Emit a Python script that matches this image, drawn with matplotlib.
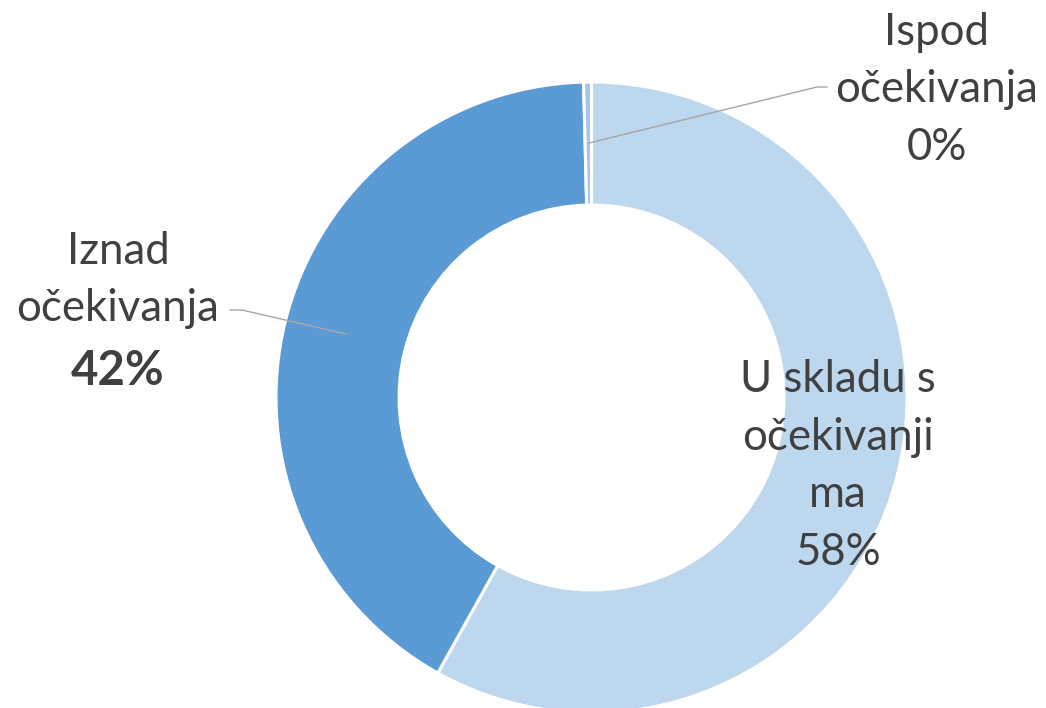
import matplotlib
matplotlib.use("Agg")
import matplotlib.pyplot as plt

categories = ["U skladu s očekivanjima", "Iznad očekivanja", "Ispod očekivanja"]
values = [58.1, 41.5, 0.4]
label_texts = ["U skladu s\nočekivanji\nma\n58%", "Iznad\nočekivanja", "Ispod\nočekivanja\n0%"]
pct_iznad = "42%"
colors = ["#BDD7EE", "#5B9BD5", "#A9C4EA"]

W, H = 1046, 708
fig = plt.figure(figsize=(W / 100, H / 100), dpi=100)
ax = fig.add_axes([0, 0, 1, 1])

cx, cy, R = 591.5, H - 397.5, 315.5
wedges, _ = ax.pie(values, colors=colors, startangle=90, counterclock=False,
                   center=(cx, cy), radius=R, frame=True,
                   wedgeprops=dict(width=R * 0.39, edgecolor="white", linewidth=2.2))
ax.set_xlim(0, W)
ax.set_ylim(0, H)
ax.set_aspect("equal")
ax.axis("off")

font = ["Lato", "DejaVu Sans"]
tc = "#404040"
fs = 31.5
ls = 1.5

# U skladu label
ax.text(838, H - 466, label_texts[0], ha="center", va="center", fontsize=fs,
        color=tc, family=font, linespacing=ls)
# Iznad label
ax.text(118, H - 280, label_texts[1], ha="center", va="center", fontsize=fs,
        color=tc, family=font, linespacing=ls)
ax.text(118, H - 371, pct_iznad, ha="center", va="center", fontsize=34,
        color=tc, family=font, fontweight="bold")
# Ispod label
ax.text(937, H - 90, label_texts[2], ha="center", va="center", fontsize=fs,
        color=tc, family=font, linespacing=ls)

lc = "#A6A6A6"
ax.plot([230, 242, 346], [H - 310, H - 310, H - 334], color=lc, lw=1)
ax.plot([827, 817, 589], [H - 87, H - 87, H - 143], color=lc, lw=1)

fig.savefig("out.png", dpi=100, facecolor="white")
